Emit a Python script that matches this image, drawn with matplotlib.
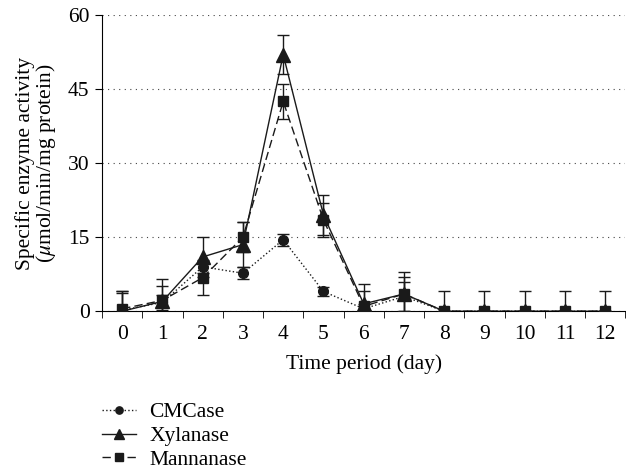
import matplotlib.pyplot as plt
import numpy as np

plt.rcParams['font.family'] = ['Liberation Serif', 'DejaVu Serif']
plt.rcParams['mathtext.fontset'] = 'stix'

# days
days = [0, 1, 2, 3, 4, 5, 6, 7, 8, 9, 10, 11, 12]
day_labels = ['0', '1', '2', '3', '4', '5', '6', '7', '8', '9', '10', '11', '12']

# specific activity values
cmcase = [0.2, 1.8, 9.0, 7.7, 14.5, 4.0, 0.5, 3.0, 0, 0, 0, 0, 0]
cmcase_err = [3.5, 1.5, 1.2, 1.2, 1.2, 1.0, 1.0, 3.0, 0, 0, 0, 0, 0]

xylanase = [0, 2.0, 11.0, 13.5, 52.0, 19.5, 1.5, 3.5, 0, 0, 0, 0, 0]
xylanase_err = [4.0, 4.5, 4.0, 4.5, 4.0, 4.0, 4.0, 4.5, 4.0, 4.0, 4.0, 4.0, 4.0]

mannanase = [0.5, 2.2, 6.8, 15.0, 42.5, 18.5, 1.0, 3.5, 0, 0, 0, 0, 0]
mannanase_err = [3.5, 3.0, 3.5, 3.0, 3.5, 3.5, 3.0, 3.5, 0, 0, 0, 0, 0]

fs = 15.5

fig = plt.figure(figsize=(6.26, 4.73), dpi=100)
ax = fig.add_axes([0.163, 0.342, 0.836, 0.626])

c1 = ax.errorbar(days, cmcase, yerr=cmcase_err, color='#1a1a1a', linestyle=':', linewidth=1,
                 marker='o', markersize=7, capsize=4, elinewidth=1, label='CMCase', zorder=3)
c2 = ax.errorbar(days, xylanase, yerr=xylanase_err, color='#1a1a1a', linestyle='-', linewidth=1,
                 marker='^', markersize=9.5, capsize=4, elinewidth=1, label='Xylanase', zorder=4)
c3 = ax.errorbar(days, mannanase, yerr=mannanase_err, color='#1a1a1a', linestyle=(0, (6, 3)), linewidth=1,
                 marker='s', markersize=7, capsize=4, elinewidth=1, label='Mannanase', zorder=3)

ax.set_xlim(-0.5, 12.5)
ax.set_ylim(0, 60)
ax.set_yticks([0, 15, 30, 45, 60])
ax.set_xticks(days)
ax.set_xticklabels(day_labels)
ax.set_xticks(np.arange(-0.5, 12.6, 1), minor=True)
ax.tick_params(axis='x', which='major', length=0, labelsize=fs, pad=10)
ax.tick_params(axis='x', which='minor', length=5, direction='out')
ax.tick_params(axis='y', labelsize=fs, length=5, direction='out', pad=4)

ax.yaxis.grid(True, linestyle=(0, (1, 4)), color='#444444', linewidth=0.8)
ax.set_axisbelow(True)
ax.spines['top'].set_visible(False)
ax.spines['right'].set_visible(False)

ax.set_xlabel('Time period (day)', fontsize=fs, labelpad=7)
ax.set_ylabel('Specific enzyme activity\n($\\mu$mol/min/mg protein)', fontsize=fs, labelpad=7,
              linespacing=0.93)

fig.legend(handles=[c1[0], c2[0], c3[0]], labels=['CMCase', 'Xylanase', 'Mannanase'],
           loc='upper left', bbox_to_anchor=(0.163, 0.150), frameon=False, fontsize=fs,
           handlelength=1.6, handletextpad=0.6, labelspacing=0.18, borderaxespad=0,
           borderpad=0, markerscale=0.75)

fig.savefig('out.png', dpi=100)
